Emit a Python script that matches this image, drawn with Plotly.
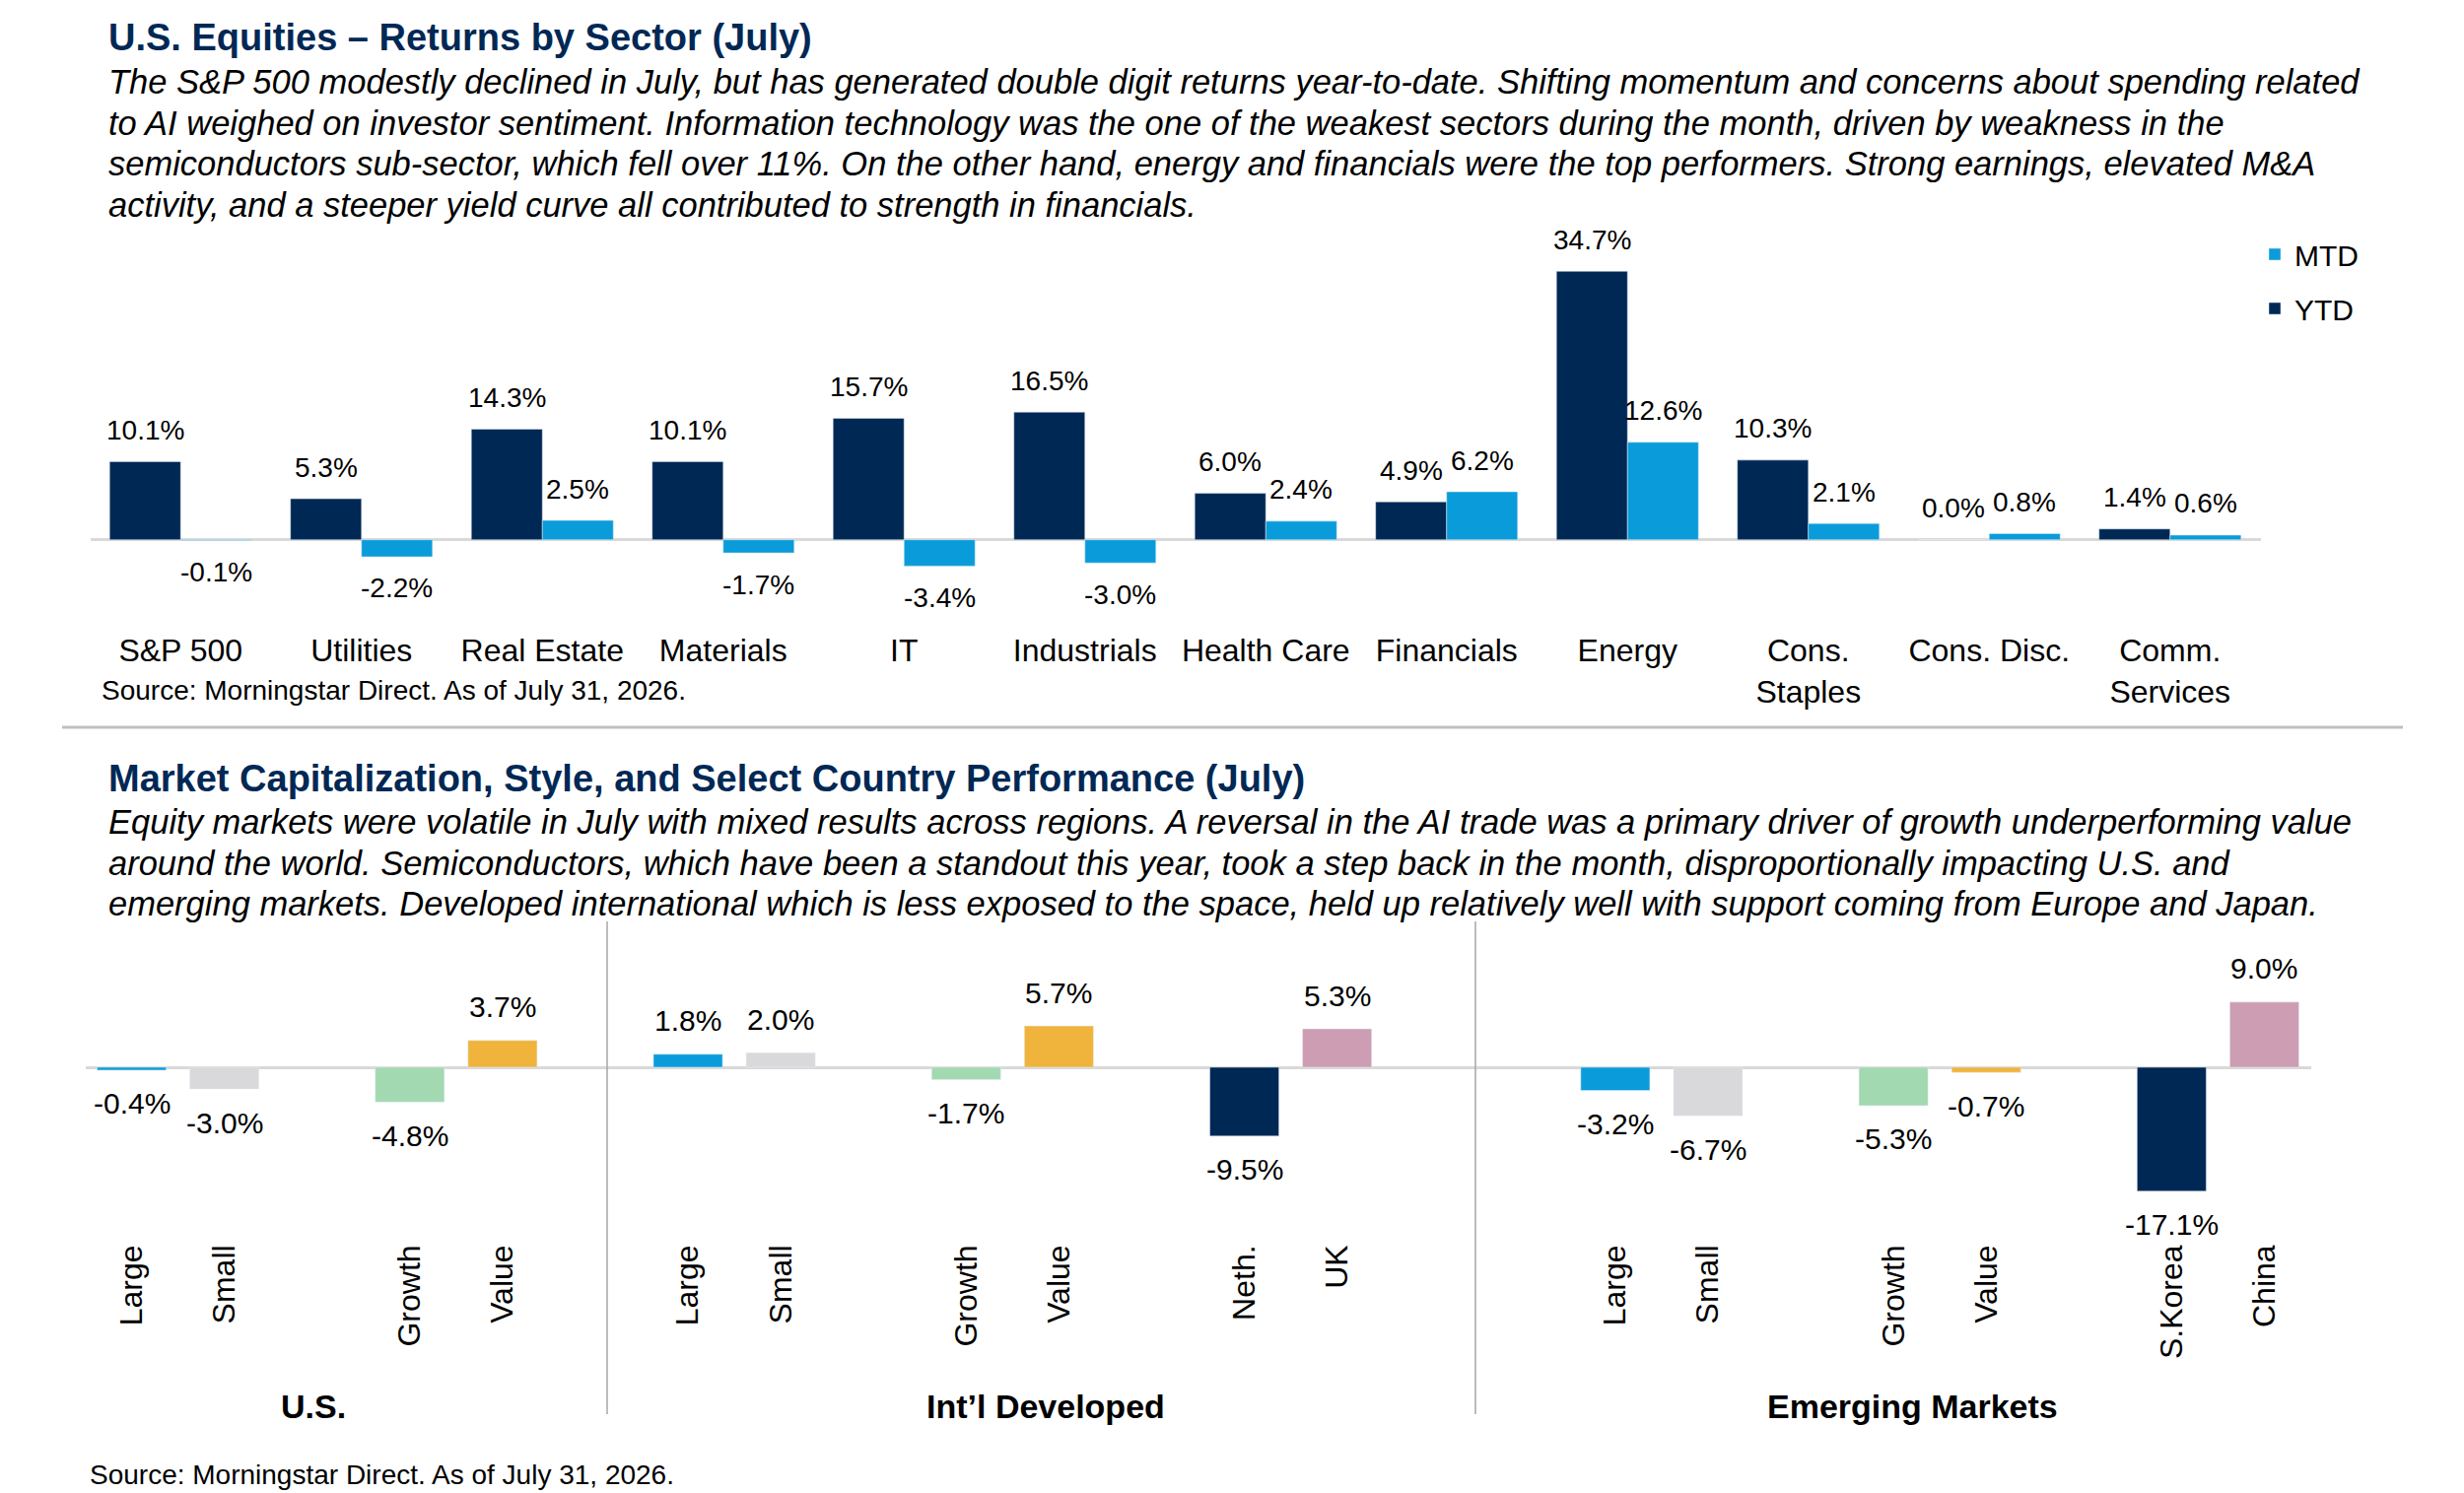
import plotly.graph_objects as go

W, H = 2500, 1515
FONT = "Liberation Sans, Arial, sans-serif"
NAVY = "#002855"
BLUE = "#0A9CDA"

# ---------------- top chart: returns by sector ----------------
sectors = ["S&P 500", "Utilities", "Real Estate", "Materials", "IT", "Industrials",
           "Health Care", "Financials", "Energy", "Cons.<br>Staples", "Cons. Disc.",
           "Comm.<br>Services"]
ytd = [10.1, 5.3, 14.3, 10.1, 15.7, 16.5, 6.0, 4.9, 34.7, 10.3, 0.0, 1.4]
mtd = [-0.1, -2.2, 2.5, -1.7, -3.4, -3.0, 2.4, 6.2, 12.6, 2.1, 0.8, 0.6]

top_title = "U.S. Equities – Returns by Sector (July)"
top_text = [
    "The S&P 500 modestly declined in July, but has generated double digit returns year-to-date. Shifting momentum and concerns about spending related",
    "to AI weighed on investor sentiment. Information technology was the one of the weakest sectors during the month, driven by weakness in the",
    "semiconductors sub-sector, which fell over 11%. On the other hand, energy and financials were the top performers. Strong earnings, elevated M&A",
    "activity, and a steeper yield curve all contributed to strength in financials.",
]

# ---------------- bottom chart: cap, style, country ----------------
regions = ["U.S.", "Int’l Developed", "Emerging Markets"]
seg_keys = ["US Large", "US Small", "US Growth", "US Value",
            "Dev Large", "Dev Small", "Dev Growth", "Dev Value", "Neth.", "UK",
            "EM Large", "EM Small", "EM Growth", "EM Value", "S.Korea", "China"]
seg_labels = ["Large", "Small", "Growth", "Value",
              "Large", "Small", "Growth", "Value", "Neth.", "UK",
              "Large", "Small", "Growth", "Value", "S.Korea", "China"]
seg_returns = [-0.4, -3.0, -4.8, 3.7,
               1.8, 2.0, -1.7, 5.7, -9.5, 5.3,
               -3.2, -6.7, -5.3, -0.7, -17.1, 9.0]

bottom_title = "Market Capitalization, Style, and Select Country Performance (July)"
bottom_text = [
    "Equity markets were volatile in July with mixed results across regions. A reversal in the AI trade was a primary driver of growth underperforming value",
    "around the world. Semiconductors, which have been a standout this year, took a step back in the month, disproportionally impacting U.S. and",
    "emerging markets. Developed international which is less exposed to the space, held up relatively well with support coming from Europe and Japan.",
]
source = "Source: Morningstar Direct. As of July 31, 2026."

seg_colors = {"Large": BLUE, "Small": "#D9D9DB", "Growth": "#A3D9B1", "Value": "#F0B43C",
              "Neth.": NAVY, "S.Korea": NAVY, "UK": "#CC9DB3", "China": "#CC9DB3"}

# slot order with empty spacer slots between pairs / regions
slot_order = ["US Large", "US Small", "_1", "US Growth", "US Value", "_2",
              "Dev Large", "Dev Small", "_3", "Dev Growth", "Dev Value", "_4",
              "Neth.", "UK", "_5", "_6",
              "EM Large", "EM Small", "_7", "EM Growth", "EM Value", "_8",
              "S.Korea", "China"]


def px_x(p):
    return p / W


def px_y(p):
    return 1 - p / H


def fmt(v):
    return f"{v:.1f}%"


fig = go.Figure()

fig.add_trace(go.Bar(x=sectors, y=ytd, name="YTD", marker_color=NAVY,
                     legendgroup="ytd", legendrank=2, xaxis="x", yaxis="y"))
fig.add_trace(go.Bar(x=sectors, y=mtd, name="MTD", marker_color=BLUE,
                     legendgroup="mtd", legendrank=1, xaxis="x", yaxis="y"))
fig.add_trace(go.Bar(x=seg_keys, y=seg_returns, width=0.745, showlegend=False,
                     marker_color=[seg_colors[l] for l in seg_labels],
                     xaxis="x2", yaxis="y2"))

annotations = []

# data labels, top chart
for vals, shift in ((ytd, -36), (mtd, 36)):
    for cat, v in zip(sectors, vals):
        annotations.append(dict(x=cat, y=v, xref="x", yref="y", text=fmt(v),
                                showarrow=False, xshift=shift,
                                yshift=32 if v >= 0 else -32, yanchor="middle",
                                font=dict(size=28, color="black", family=FONT)))

# data labels, bottom chart
for key, v in zip(seg_keys, seg_returns):
    annotations.append(dict(x=key, y=v, xref="x2", yref="y2", text=fmt(v),
                            showarrow=False, yshift=34 if v >= 0 else -34,
                            yanchor="middle",
                            font=dict(size=30, color="black", family=FONT)))


def note(text, x, y, size, color="black", xanchor="left"):
    annotations.append(dict(text=text, x=px_x(x), y=px_y(y), xref="paper", yref="paper",
                            xanchor=xanchor, yanchor="middle", showarrow=False,
                            font=dict(size=size, color=color, family=FONT)))


note(f"<b>{top_title}</b>", 108, 38, 38, NAVY)
for i, line in enumerate(top_text):
    note(f"<i>{line}</i>", 108, 83 + i * 41.7, 34.5)
note(source, 101, 700, 28)

note(f"<b>{bottom_title}</b>", 108, 790, 38, NAVY)
for i, line in enumerate(bottom_text):
    note(f"<i>{line}</i>", 108, 834 + i * 41.7, 34.5)
note(source, 89, 1496, 28)

for name, cx in zip(regions, (318, 1061, 1940)):
    note(f"<b>{name}</b>", cx, 1427, 34, "black", "center")

# pixel geometry of the two plot areas
top_zero, top_scale, top_px = 547.7, 7.85, (236, 638)
bot_zero, bot_scale, bot_px = 1083, 7.35, (950, 1256)

axis_font = dict(size=32, color="black", family=FONT)

fig.update_layout(
    width=W, height=H,
    margin=dict(l=0, r=0, t=0, b=0),
    paper_bgcolor="white", plot_bgcolor="white",
    font=dict(family=FONT, color="black"),
    barmode="group", bargap=0.215, bargroupgap=0,
    showlegend=True,
    legend=dict(x=px_x(2288), y=px_y(232), xanchor="left", yanchor="top",
                traceorder="grouped", tracegroupgap=13,
                font=dict(size=30, color="black", family=FONT),
                bgcolor="rgba(0,0,0,0)"),
    xaxis=dict(domain=[px_x(91.5), px_x(2293.5)], type="category",
               showline=False, showgrid=False, ticks="", tickfont=axis_font,
               anchor="y", fixedrange=True),
    yaxis=dict(domain=[px_y(top_px[1]), px_y(top_px[0])],
               range=[-(top_px[1] - top_zero) / top_scale, (top_zero - top_px[0]) / top_scale],
               showgrid=False, showticklabels=False, zeroline=True,
               zerolinecolor="#D9D9D9", zerolinewidth=3, anchor="x", fixedrange=True),
    xaxis2=dict(domain=[px_x(86.5), px_x(2344.5)], type="category",
                categoryorder="array", categoryarray=slot_order,
                range=[-0.5, len(slot_order) - 0.5],
                tickvals=seg_keys, ticktext=seg_labels, tickangle=-90,
                showline=False, showgrid=False, ticks="", tickfont=axis_font,
                anchor="y2", fixedrange=True),
    yaxis2=dict(domain=[px_y(bot_px[1]), px_y(bot_px[0])],
                range=[-(bot_px[1] - bot_zero) / bot_scale, (bot_zero - bot_px[0]) / bot_scale],
                showgrid=False, showticklabels=False, zeroline=True,
                zerolinecolor="#D9D9D9", zerolinewidth=3, anchor="x2", fixedrange=True),
    annotations=annotations,
    shapes=[
        dict(type="line", xref="paper", yref="paper", x0=px_x(63), x1=px_x(2438),
             y0=px_y(738), y1=px_y(738), line=dict(color="#BFBFBF", width=3)),
        dict(type="line", xref="paper", yref="paper", x0=px_x(616), x1=px_x(616),
             y0=px_y(935), y1=px_y(1435), line=dict(color="#A6A6A6", width=1.5)),
        dict(type="line", xref="paper", yref="paper", x0=px_x(1497), x1=px_x(1497),
             y0=px_y(935), y1=px_y(1435), line=dict(color="#A6A6A6", width=1.5)),
    ],
)

fig.write_html("out.html", config={"displayModeBar": False},
               post_script="document.body.style.margin='0px';")
